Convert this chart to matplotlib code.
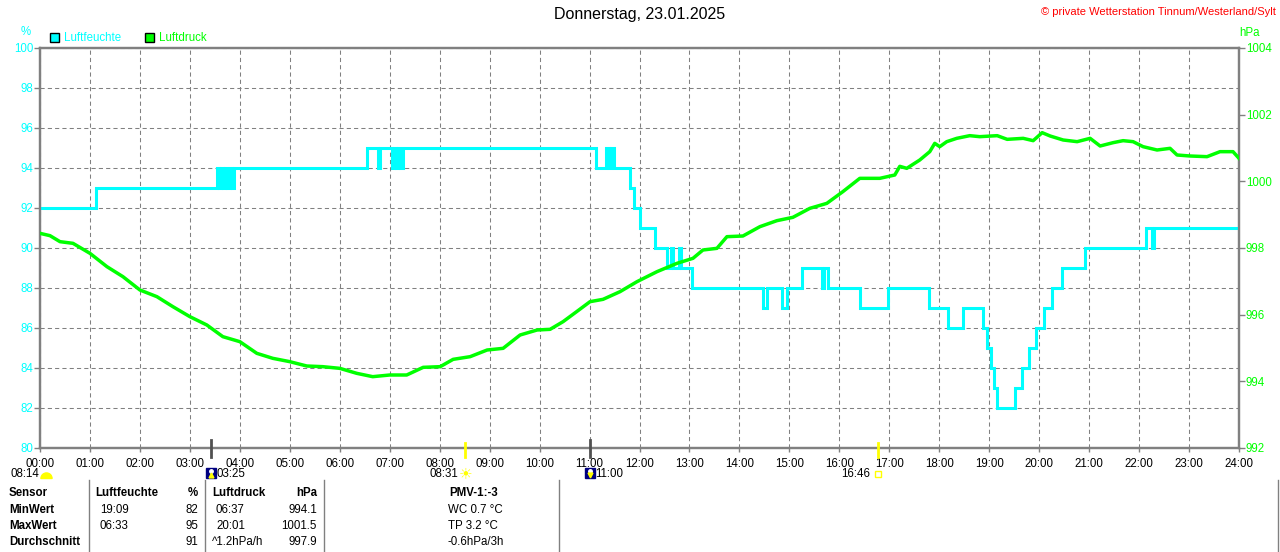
import matplotlib
matplotlib.use("Agg")
import matplotlib.pyplot as plt
from matplotlib.transforms import Affine2D, blended_transform_factory, offset_copy
from matplotlib.patches import Rectangle
from matplotlib.lines import Line2D
from matplotlib.path import Path

plt.rcParams['font.family'] = ['Liberation Sans', 'DejaVu Sans']

# ---------------- data ----------------
title = "Donnerstag, 23.01.2025"
credit = "© private Wetterstation Tinnum/Westerland/Sylt"
series_names = ["Luftfeuchte", "Luftdruck"]
hour_labels = [f"{h:02d}:00" for h in range(25)]
hum_ticks = list(range(80, 101, 2))
pres_ticks = list(range(992, 1005, 2))

hum_time = [0.00, 1.12, 3.54, 3.58, 3.62, 3.66, 3.70, 3.74, 3.80, 3.84, 3.88,
            6.55, 6.77, 6.81, 7.05, 7.09, 7.13, 7.17, 7.21, 7.27,
            11.13, 11.33, 11.39, 11.43, 11.49, 11.81, 11.89, 12.01, 12.31, 12.55,
            12.63, 12.67, 12.79, 12.83, 13.05, 14.47, 14.55, 14.85, 14.95, 15.25,
            15.65, 15.70, 15.77, 16.41, 16.97, 17.79, 18.17, 18.47, 18.87, 18.95,
            19.03, 19.09, 19.15, 19.52, 19.66, 19.80, 19.94, 20.10, 20.26, 20.46,
            20.92, 22.14, 22.26, 22.30, 24.00]
hum_value = [92, 93, 94, 93, 94, 93, 94, 93, 94, 93, 94,
             95, 94, 95, 94, 95, 94, 95, 94, 95,
             94, 95, 94, 95, 94, 93, 92, 91, 90, 89,
             90, 89, 90, 89, 88, 87, 88, 87, 88, 89,
             88, 89, 88, 87, 88, 87, 86, 87, 86, 85,
             84, 83, 82, 83, 84, 85, 86, 87, 88, 89,
             90, 91, 90, 91, 91]

pres_time = [0.00, 0.20, 0.40, 0.66, 1.00, 1.34, 1.66, 2.00, 2.34, 2.66,
             3.00, 3.34, 3.66, 4.00, 4.34, 4.66, 5.00, 5.34, 5.66, 6.00,
             6.34, 6.66, 7.00, 7.34, 7.67, 8.01, 8.27, 8.61, 8.95, 9.27,
             9.61, 9.95, 10.21, 10.47, 10.75, 11.01, 11.27, 11.61, 11.95, 12.35,
             12.75, 13.07, 13.27, 13.55, 13.75, 14.07, 14.41, 14.75, 15.07, 15.41,
             15.75, 16.07, 16.41, 16.81, 17.11, 17.21, 17.35, 17.61, 17.81, 17.91,
             18.01, 18.15, 18.35, 18.61, 18.81, 19.16, 19.36, 19.68, 19.88, 20.06,
             20.22, 20.48, 20.76, 21.02, 21.22, 21.48, 21.68, 21.88, 22.08, 22.36,
             22.62, 22.76, 23.02, 23.36, 23.62, 23.88, 24.00]
pres_value = [998.44, 998.37, 998.19, 998.14, 997.84, 997.44, 997.14, 996.74, 996.54, 996.24,
              995.94, 995.69, 995.34, 995.19, 994.84, 994.69, 994.59, 994.46, 994.44, 994.39,
              994.24, 994.14, 994.19, 994.19, 994.42, 994.44, 994.66, 994.74, 994.94, 994.99,
              995.39, 995.54, 995.56, 995.79, 996.10, 996.39, 996.46, 996.69, 996.99, 997.29,
              997.54, 997.69, 997.94, 997.99, 998.34, 998.36, 998.64, 998.82, 998.92, 999.19,
              999.34, 999.69, 1000.09, 1000.09, 1000.19, 1000.45, 1000.39, 1000.64, 1000.89, 1001.14,
              1001.04, 1001.19, 1001.29, 1001.37, 1001.34, 1001.37, 1001.26, 1001.29, 1001.22, 1001.46,
              1001.36, 1001.24, 1001.19, 1001.29, 1001.06, 1001.16, 1001.22, 1001.19, 1001.04, 1000.94,
              1000.99, 1000.79, 1000.76, 1000.74, 1000.89, 1000.89, 1000.69]

event_pos = [0.12, 3 + 25/60, 8 + 31/60, 11.0, 16 + 46/60]
event_label = ["08:14", "03:25", "08:31", "11:00", "16:46"]
event_kind = ["dawn", "moonrise", "sunrise", "moonset", "sunset"]

table_header = ["Sensor", "Luftfeuchte", "%", "Luftdruck", "hPa", "PMV-1:-3"]
row_names = ["MinWert", "MaxWert", "Durchschnitt"]
hum_when = ["19:09", "06:33", ""]
hum_stat = ["82", "95", "91"]
pres_when = ["06:37", "20:01", "^1.2hPa/h"]
pres_stat = ["994.1", "1001.5", "997.9"]
pmv_lines = ["WC 0.7 °C", "TP 3.2 °C", "-0.6hPa/3h"]

# ---------------- styles ----------------
CYAN = "#00FFFF"
GREEN = "#00FF00"
GRAY = "#808080"
FS = 8.3

W, H = 1280, 552
fig = plt.figure(figsize=(W / 100, H / 100), dpi=100)
fig.patch.set_facecolor("white")
# pixel coordinates with origin at top-left
T = Affine2D().scale(1, -1).translate(0, H).scale(1 / 100) + fig.dpi_scale_trans

ax = fig.add_axes([40 / W, 1 - 448 / H, 1199 / W, 400 / H])
ax.set_xlim(0, 24)
ax.set_ylim(80, 100)
ax.set_axisbelow(True)
ax.grid(True, color=GRAY, linestyle=(0, (4, 3)), linewidth=0.75)
ax.plot(hum_time, hum_value, drawstyle="steps-post", color=CYAN, lw=2.2,
        solid_joinstyle="miter", zorder=3)

ax2 = ax.twinx()
ax2.set_ylim(992, 1004)
ax2.plot(pres_time, pres_value, color=GREEN, lw=2.5, zorder=3)

ax.set_xticks(range(25))
ax.set_xticklabels(hour_labels)
ax.set_yticks(hum_ticks)
ax.set_yticklabels([str(v) for v in hum_ticks])
ax2.set_yticks(pres_ticks)
ax2.set_yticklabels([str(v) for v in pres_ticks])

ax.tick_params(axis="x", length=3, width=1, color=GRAY, pad=4,
               labelsize=FS, labelcolor="black")
ax.tick_params(axis="y", length=4, width=1, color=GRAY, pad=1,
               labelsize=FS, labelcolor=CYAN)
ax2.tick_params(axis="y", length=4, width=1, color=GRAY, pad=1,
                labelsize=FS, labelcolor=GREEN)
for a in (ax, ax2):
    for s in a.spines.values():
        s.set_color(GRAY)
        s.set_linewidth(1.6)

# ---------------- header texts ----------------
fig.text(640, 15, title, transform=T, ha="center", va="center", fontsize=11.5)
fig.text(1276, 12, credit, transform=T, ha="right", va="center", fontsize=8, color="red")
fig.text(26, 32, "%", transform=T, ha="center", va="center", fontsize=FS, color=CYAN)
fig.text(1250, 33, "hPa", transform=T, ha="center", va="center", fontsize=FS, color=GREEN)

for (xr, xt), name, col in zip([(50, 64), (145, 159)], series_names, [CYAN, GREEN]):
    fig.add_artist(Rectangle((xr, 33), 9, 9, transform=T, facecolor=col,
                             edgecolor="black", lw=1))
    fig.text(xt, 38, name, transform=T, ha="left", va="center", fontsize=FS, color=col)

# ---------------- events below the x axis ----------------
bt = blended_transform_factory(ax.transData, T)
for t, lab, kind in zip(event_pos, event_label, event_kind):
    if kind in ("moonrise", "moonset"):
        fig.add_artist(Line2D([t, t], [440, 457], transform=bt, color="#505050", lw=2))
        fig.add_artist(Line2D([t], [473], transform=bt, marker="s", ms=7.5,
                              mfc="#000080", mec="#000080", ls="none"))
        fig.add_artist(Line2D([t], [471], transform=bt, marker="o", ms=2.5,
                              mfc="white", mec="white", ls="none"))
        fig.add_artist(Line2D([t], [475], transform=bt,
                              marker="^" if kind == "moonrise" else "v", ms=3.5,
                              mfc="#FFFF00", mec="#FFFF00", ls="none"))
        fig.text(t, 474, lab, transform=offset_copy(bt, fig=fig, x=6, y=0, units="dots"),
                 ha="left", va="center", fontsize=FS)
    else:
        if kind in ("sunrise", "sunset"):
            fig.add_artist(Line2D([t, t], [443, 457], transform=bt, color="#FFFF00", lw=2))
        if kind == "dawn":
            fig.add_artist(Line2D([t], [478], transform=bt, marker=Path.wedge(0, 180),
                                  ms=8, mfc="#FFFF00", mec="#FFFF00", ls="none"))
        elif kind == "sunrise":
            fig.text(t, 474, "\u2600", transform=bt, ha="center", va="center",
                     fontsize=11, color="#FFFF00", family=["DejaVu Sans"])
        else:
            fig.add_artist(Line2D([t], [474], transform=bt, marker="s", ms=4.5,
                                  mfc="none", mec="#FFFF00", mew=1, ls="none"))
        fig.text(t, 474, lab, transform=offset_copy(bt, fig=fig, x=-7, y=0, units="dots"),
                 ha="right", va="center", fontsize=FS)

# ---------------- statistics table ----------------
for xl in (89, 205, 324, 559, 1278):
    fig.add_artist(Line2D([xl, xl], [480, 552], transform=T, color=GRAY, lw=1))

row_y = [493, 510, 526, 542]
hdr_pos = [(9, "left"), (95, "left"), (198, "right"), (212, "left"), (317, "right"), (449, "left")]
for txt, (x, ha) in zip(table_header, hdr_pos):
    fig.text(x, row_y[0], txt, transform=T, ha=ha, va="center", fontsize=FS, fontweight="bold")

for i, y in enumerate(row_y[1:]):
    fig.text(9, y, row_names[i], transform=T, ha="left", va="center", fontsize=FS, fontweight="bold")
    fig.text(100, y, hum_when[i], transform=T, ha="left", va="center", fontsize=FS)
    fig.text(198, y, hum_stat[i], transform=T, ha="right", va="center", fontsize=FS)
    fig.text(216 if ":" in pres_when[i] else 212, y, pres_when[i], transform=T,
             ha="left", va="center", fontsize=FS)
    fig.text(317, y, pres_stat[i], transform=T, ha="right", va="center", fontsize=FS)
    fig.text(448, y, pmv_lines[i], transform=T, ha="left", va="center", fontsize=FS)

fig.savefig("out.png", dpi=100, facecolor="white")
